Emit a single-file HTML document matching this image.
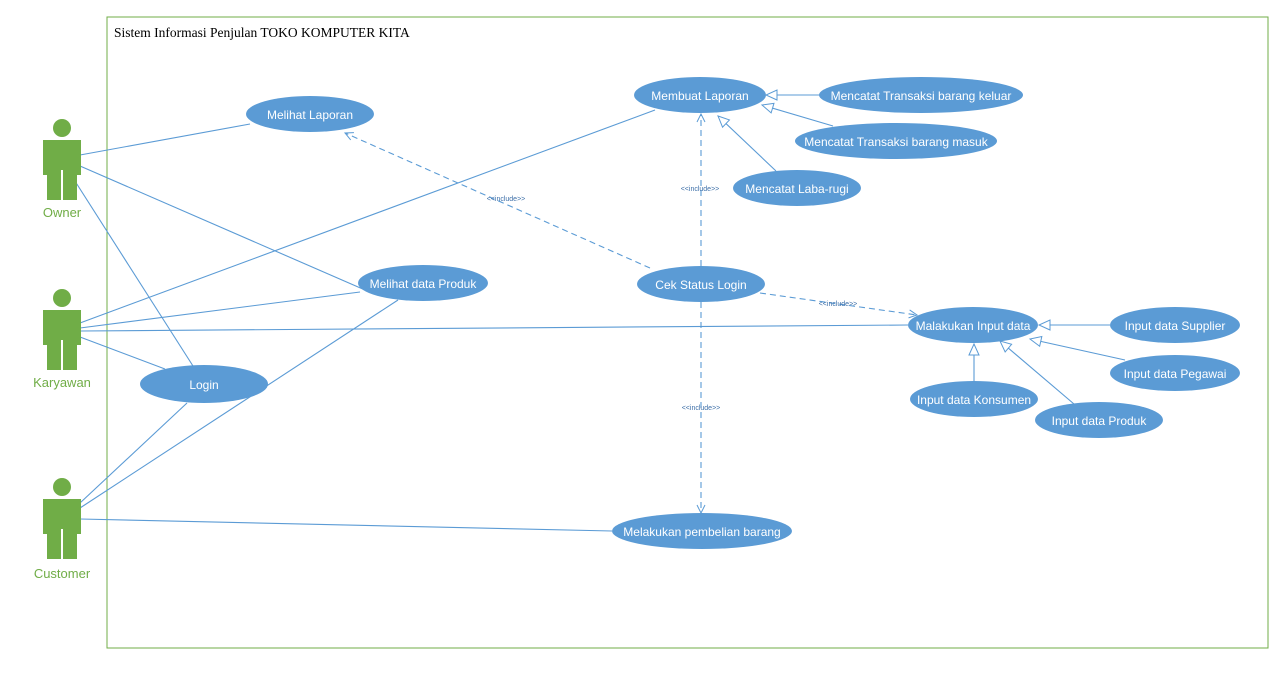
<!DOCTYPE html>
<html><head><meta charset="utf-8"><style>
html,body{margin:0;padding:0;background:#fff;}
svg{display:block;}
.u{fill:#5b9bd5;}
.t{fill:#fff;font-family:"Liberation Sans",sans-serif;font-size:12px;text-anchor:middle;}
.l{stroke:#5b9bd5;stroke-width:1.1;fill:none;}
.d{stroke:#5b9bd5;stroke-width:1.1;fill:none;stroke-dasharray:6,4;}
.s{fill:#3d6fa8;font-family:"Liberation Sans",sans-serif;font-size:7px;text-anchor:middle;}
.a{fill:#70ad47;}
.al{fill:#70ad47;font-family:"Liberation Sans",sans-serif;font-size:13px;text-anchor:middle;}
</style></head><body>
<svg width="1281" height="674" viewBox="0 0 1281 674" xmlns="http://www.w3.org/2000/svg">
<defs>
<marker id="v" markerWidth="10" markerHeight="10" refX="9" refY="5" orient="auto" markerUnits="userSpaceOnUse"><path d="M1,1 L9,5 L1,9" fill="none" stroke="#5b9bd5" stroke-width="1"/></marker>
<marker id="tri" markerWidth="14" markerHeight="14" refX="12" refY="6" orient="auto" markerUnits="userSpaceOnUse"><path d="M1,1 L12,6 L1,11 Z" fill="#fff" stroke="#5b9bd5" stroke-width="1"/></marker>
</defs>
<rect x="107" y="17" width="1161" height="631" fill="none" stroke="#70ad47" stroke-width="1"/>
<text x="114" y="37" font-family="'Liberation Serif',serif" font-size="13.5" fill="#000">Sistem Informasi Penjulan TOKO KOMPUTER KITA</text>

<line class="l" x1="80" y1="155" x2="250" y2="124"/>
<line class="l" x1="80" y1="166" x2="365" y2="290"/>
<line class="l" x1="73" y1="178" x2="193" y2="366"/>
<line class="l" x1="80" y1="323" x2="655" y2="110"/>
<line class="l" x1="80" y1="328" x2="360" y2="292"/>
<line class="l" x1="80" y1="331" x2="908" y2="325"/>
<line class="l" x1="80" y1="337" x2="165" y2="369"/>
<line class="l" x1="80" y1="503" x2="187" y2="403"/>
<line class="l" x1="80" y1="508" x2="398" y2="300"/>
<line class="l" x1="80" y1="519" x2="612" y2="531"/>

<line class="d" x1="650" y1="268" x2="345" y2="133" marker-end="url(#v)"/>
<line class="d" x1="701" y1="266" x2="701" y2="114" marker-end="url(#v)"/>
<line class="d" x1="760" y1="293" x2="917" y2="315" marker-end="url(#v)"/>
<line class="d" x1="701" y1="302" x2="701" y2="513" marker-end="url(#v)"/>
<text class="s" x="506" y="201">&lt;&lt;include&gt;&gt;</text>
<text class="s" x="700" y="191">&lt;&lt;include&gt;&gt;</text>
<text class="s" x="838" y="306">&lt;&lt;include&gt;&gt;</text>
<text class="s" x="701" y="410">&lt;&lt;include&gt;&gt;</text>

<line class="l" x1="819" y1="95" x2="766" y2="95" marker-end="url(#tri)"/>
<line class="l" x1="833" y1="126" x2="762" y2="105" marker-end="url(#tri)"/>
<line class="l" x1="776" y1="171" x2="718" y2="116" marker-end="url(#tri)"/>
<line class="l" x1="1110" y1="325" x2="1039" y2="325" marker-end="url(#tri)"/>
<line class="l" x1="1125" y1="360" x2="1030" y2="339" marker-end="url(#tri)"/>
<line class="l" x1="1074" y1="404" x2="1000" y2="341" marker-end="url(#tri)"/>
<line class="l" x1="974" y1="381" x2="974" y2="344" marker-end="url(#tri)"/>

<ellipse class="u" cx="310" cy="114" rx="64" ry="18"/><text class="t" x="310" y="119">Melihat Laporan</text>
<ellipse class="u" cx="700" cy="95" rx="66" ry="18"/><text class="t" x="700" y="100">Membuat Laporan</text>
<ellipse class="u" cx="921" cy="95" rx="102" ry="18"/><text class="t" x="921" y="100">Mencatat Transaksi barang keluar</text>
<ellipse class="u" cx="896" cy="141" rx="101" ry="18"/><text class="t" x="896" y="146">Mencatat Transaksi barang masuk</text>
<ellipse class="u" cx="797" cy="188" rx="64" ry="18"/><text class="t" x="797" y="193">Mencatat Laba-rugi</text>
<ellipse class="u" cx="701" cy="284" rx="64" ry="18"/><text class="t" x="701" y="289">Cek Status Login</text>
<ellipse class="u" cx="423" cy="283" rx="65" ry="18"/><text class="t" x="423" y="288">Melihat data Produk</text>
<ellipse class="u" cx="973" cy="325" rx="65" ry="18"/><text class="t" x="973" y="330">Malakukan Input data</text>
<ellipse class="u" cx="1175" cy="325" rx="65" ry="18"/><text class="t" x="1175" y="330">Input data Supplier</text>
<ellipse class="u" cx="1175" cy="373" rx="65" ry="18"/><text class="t" x="1175" y="378">Input data Pegawai</text>
<ellipse class="u" cx="974" cy="399" rx="64" ry="18"/><text class="t" x="974" y="404">Input data Konsumen</text>
<ellipse class="u" cx="1099" cy="420" rx="64" ry="18"/><text class="t" x="1099" y="425">Input data Produk</text>
<ellipse class="u" cx="204" cy="384" rx="64" ry="19"/><text class="t" x="204" y="389">Login</text>
<ellipse class="u" cx="702" cy="531" rx="90" ry="18"/><text class="t" x="702" y="536">Melakukan pembelian barang</text>

<g id="act">
<circle class="a" cx="62" cy="128" r="9"/>
<path class="a" d="M43,140 H81 V175 H77 V200 H63 V170 H61 V200 H47 V175 H43 Z"/>
</g>
<use href="#act" transform="translate(0,170)"/>
<use href="#act" transform="translate(0,359)"/>
<text class="al" x="62" y="217">Owner</text>
<text class="al" x="62" y="387">Karyawan</text>
<text class="al" x="62" y="578">Customer</text>
</svg>
</body></html>
